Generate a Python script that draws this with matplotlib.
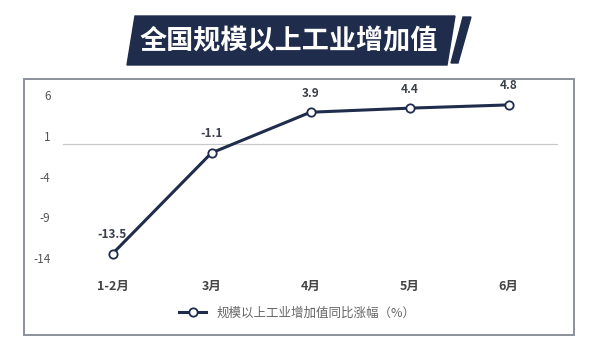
"""全国规模以上工业增加值 line chart."""

import matplotlib

matplotlib.use("Agg")

import matplotlib.pyplot as plt
from matplotlib.patches import Polygon, Rectangle

plt.rcParams["font.family"] = ["Noto Sans CJK SC", "DejaVu Sans"]
plt.rcParams["axes.unicode_minus"] = False

months = ["1-2月", "3月", "4月", "5月", "6月"]
growth = [-13.5, -1.1, 3.9, 4.4, 4.8]
y_ticks = [-14, -9, -4, 1, 6]
title = "全国规模以上工业增加值"
series_name = "规模以上工业增加值同比涨幅（%）"

NAVY = "#1f2c4c"
W, H = 600, 343


def px(x, y):
    # pixel coords (top-left origin) -> figure fraction
    return (x / W, 1 - y / H)


fig = plt.figure(figsize=(6, 3.43), dpi=100)

# title banner
banner = Polygon([px(135, 16), px(455, 16), px(447, 65), px(127, 65)],
                 closed=True, transform=fig.transFigure, color=NAVY)
slash = Polygon([px(463, 17), px(471, 17), px(458, 63), px(451, 63)],
                closed=True, transform=fig.transFigure, color=NAVY)
fig.patches.extend([banner, slash])
fig.text(*px(289, 41), title, color="white", fontsize=19.5, fontweight="bold",
         ha="center", va="center")

# outer frame
frame = Rectangle(px(24, 335), 550 / W, 256 / H, transform=fig.transFigure,
                  fill=False, edgecolor="#8b919c", linewidth=1.4)
fig.patches.append(frame)

ax = fig.add_axes([63 / W, 1 - 266 / H, 495 / W, 179 / H])
x = list(range(len(months)))
ax.plot(x, growth, color=NAVY, linewidth=2.2, marker="o", markersize=6,
        markerfacecolor="white", markeredgecolor=NAVY, markeredgewidth=1.3,
        label=series_name, zorder=3)
for xi, v in zip(x, growth):
    ax.annotate(f"{v}", (xi, v), xytext=(0, 9), textcoords="offset points",
                ha="center", va="bottom", fontsize=8.5, fontweight="bold",
                color="#3a3f4a")

ax.axhline(0, color="#c9c9c9", linewidth=0.9, zorder=1)
ax.set_xlim(-0.5, len(months) - 0.5)
ax.set_ylim(-15, 7)
ax.set_yticks(y_ticks)
ax.set_xticks(x)
ax.set_xticklabels(months, fontweight="bold")
ax.tick_params(axis="y", length=0, pad=9, labelsize=8.5, labelcolor="#555555")
ax.tick_params(axis="x", length=0, pad=10, labelsize=9, labelcolor="#444444")
for spine in ax.spines.values():
    spine.set_visible(False)
ax.patch.set_alpha(0)

fig.legend(loc="center", bbox_to_anchor=px(297, 313), frameon=False,
           fontsize=9, handlelength=2.2, labelcolor="#666666")

fig.savefig("out.png", dpi=100, facecolor="white")
